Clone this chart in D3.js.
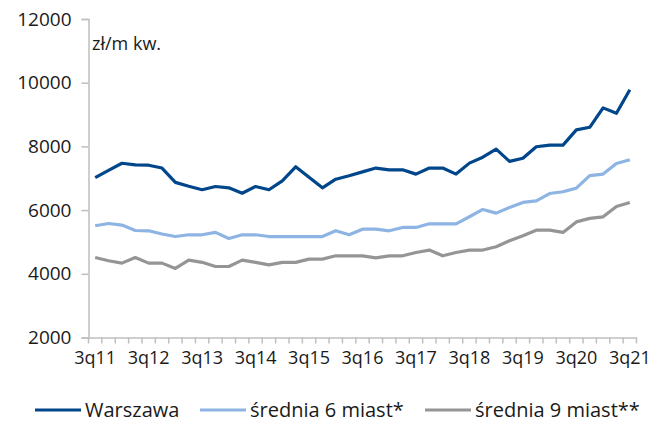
<!DOCTYPE html>
<html lang="pl">
  <head>
    <meta charset="utf-8">
    <title>Ceny mieszkań</title>
    <script src="https://d3js.org/d3.v7.min.js"></script>
    <style>
      body { margin: 0; background: #fff; }
      text { font-family: "Open Sans", "Noto Sans", sans-serif; fill: #1a1a1a; }
    </style>
  </head>
  <body>
    <div id="chart"></div>
    <script>

    // quarters 3q11 .. 3q21
    var quarters = ["3q11","4q11","1q12","2q12","3q12","4q12","1q13","2q13","3q13","4q13",
                    "1q14","2q14","3q14","4q14","1q15","2q15","3q15","4q15","1q16","2q16",
                    "3q16","4q16","1q17","2q17","3q17","4q17","1q18","2q18","3q18","4q18",
                    "1q19","2q19","3q19","4q19","1q20","2q20","3q20","4q20","1q21","2q21","3q21"];

    var warszawa = [7020,7250,7470,7420,7410,7320,6870,6750,6640,6740,
                    6700,6530,6740,6640,6920,7360,7030,6700,6970,7080,
                    7200,7320,7265,7265,7130,7320,7320,7130,7475,7660,
                    7915,7530,7630,7990,8040,8040,8520,8600,9210,9040,9780];

    var srednia6 = [5510,5580,5530,5360,5350,5250,5170,5225,5225,5300,
                    5110,5225,5225,5170,5170,5170,5170,5170,5350,5225,
                    5400,5400,5350,5455,5455,5570,5570,5570,5790,6020,
                    5905,6085,6240,6290,6520,6575,6690,7080,7130,7465,7580];

    var srednia9 = [4510,4410,4335,4510,4335,4335,4170,4430,4360,4230,
                    4230,4430,4360,4280,4360,4360,4460,4460,4565,4565,
                    4565,4500,4565,4565,4670,4745,4565,4670,4745,4745,
                    4850,5040,5195,5370,5370,5300,5630,5740,5790,6115,6240];

    var yTicks = [2000, 4000, 6000, 8000, 10000, 12000];
    var xLabels = ["3q11","3q12","3q13","3q14","3q15","3q16","3q17","3q18","3q19","3q20","3q21"];

    var series = [
      {name: "Warszawa", values: warszawa, colour: "#00468b"},
      {name: "średnia 6 miast*", values: srednia6, colour: "#8db4e3"},
      {name: "średnia 9 miast**", values: srednia9, colour: "#959595"}
    ];

    var W = 652, H = 425;
    var margin = {left: 88.5, right: 636.5, top: 19, bottom: 337.5};
    var axisColour = "#bfbfbf";

    var svg = d3.select("#chart")
      .append("svg")
        .attr("width", W)
        .attr("height", H);

    var x = d3.scaleBand()
      .domain(quarters)
      .range([margin.left, margin.right])
      .padding(0);

    var y = d3.scaleLinear()
      .domain([2000, 12000])
      .range([margin.bottom, margin.top]);

    // y axis
    var yAxis = svg.append("g")
      .attr("transform", "translate(" + margin.left + ",0)")
      .call(d3.axisLeft(y).tickValues(yTicks).tickSize(7).tickPadding(10).tickFormat(d3.format("d")));
    yAxis.select(".domain").attr("stroke", axisColour).attr("stroke-width", 1.5);
    yAxis.selectAll(".tick line").attr("stroke", axisColour).attr("stroke-width", 1.5);
    yAxis.selectAll(".tick text")
      .style("font-size", "19px")
      .attr("fill", "#1a1a1a");

    // x axis: labels on 3rd quarters, tick marks on category boundaries
    var xAxis = svg.append("g")
      .attr("transform", "translate(0," + margin.bottom + ")")
      .call(d3.axisBottom(x).tickValues(xLabels).tickSize(0).tickPadding(14));
    xAxis.select(".domain").attr("stroke", axisColour).attr("stroke-width", 1.5);
    xAxis.selectAll(".tick text")
      .style("font-size", "18px")
      .attr("fill", "#1a1a1a");

    var bounds = quarters.map(function(q) { return x(q); }).concat([x.range()[1]]);
    svg.append("g")
      .selectAll("line")
      .data(bounds)
      .enter()
      .append("line")
        .attr("x1", function(d) { return d; })
        .attr("x2", function(d) { return d; })
        .attr("y1", margin.bottom)
        .attr("y2", margin.bottom + 6)
        .attr("stroke", axisColour)
        .attr("stroke-width", 1.5);

    // unit label
    svg.append("text")
      .attr("x", 92)
      .attr("y", 50)
      .style("font-size", "18px")
      .text("zł/m kw.");

    // lines
    var line = d3.line()
      .x(function(d, i) { return x(quarters[i]) + x.bandwidth() / 2; })
      .y(function(d) { return y(d); });

    svg.append("g")
      .selectAll("path")
      .data(series.slice().reverse())
      .enter()
      .append("path")
        .attr("d", function(s) { return line(s.values); })
        .attr("fill", "none")
        .attr("stroke", function(s) { return s.colour; })
        .attr("stroke-width", 3.2)
        .attr("stroke-linejoin", "round");

    // legend
    var legendX = [35, 200, 425];
    var legend = svg.append("g")
      .selectAll("g")
      .data(series)
      .enter()
      .append("g")
        .attr("transform", function(d, i) { return "translate(" + legendX[i] + ",410)"; });

    legend.append("line")
      .attr("x1", 0)
      .attr("x2", 46)
      .attr("stroke", function(d) { return d.colour; })
      .attr("stroke-width", 3.2);

    legend.append("text")
      .attr("x", 50)
      .attr("dy", "0.35em")
      .style("font-size", "20px")
      .text(function(d) { return d.name; });

    </script>
  </body>
</html>
